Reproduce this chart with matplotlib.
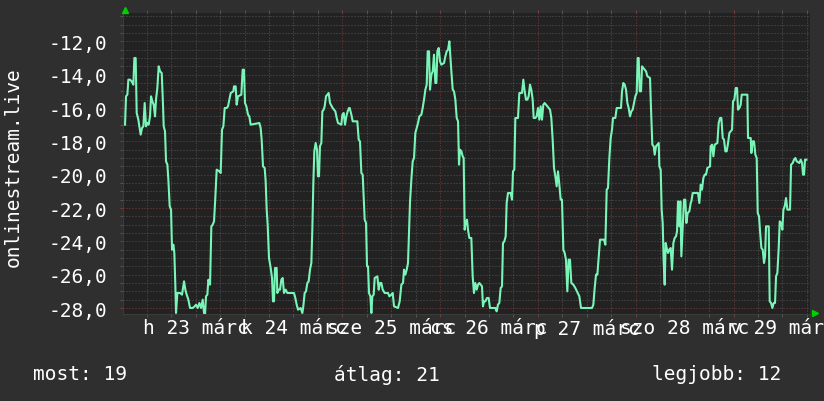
import matplotlib
matplotlib.use("Agg")
import matplotlib.pyplot as plt
import matplotlib.transforms as mtransforms
from matplotlib.ticker import MultipleLocator, FuncFormatter

# readings per day: (hour of day, value)
mar22 = [(18.68, -17.0), (18.92, -15.3), (19.25, -15.2), (19.50, -14.3), (19.90, -14.3), (20.31, -14.4),
         (20.72, -14.6), (20.97, -13.0), (21.29, -13.0), (21.54, -16.3), (21.95, -16.7), (22.19, -17.1),
         (22.52, -17.6), (22.85, -17.2), (23.18, -17.1), (23.50, -15.7), (23.83, -17.1)]
mar23 = [(0.16, -16.9), (0.48, -17.0), (0.81, -16.5), (1.06, -15.3), (1.38, -15.6), (1.71, -15.8), (2.04, -16.5),
         (2.28, -15.5), (2.61, -14.8), (2.94, -13.5), (3.27, -13.8), (3.68, -13.9), (3.92, -15.3), (4.17, -17.1),
         (4.49, -17.4), (4.74, -19.2), (5.07, -19.4), (5.31, -20.3), (5.64, -21.9), (5.97, -22.1), (6.21, -24.5),
         (6.54, -24.2), (6.78, -24.7), (7.03, -26.7), (7.19, -28.3), (7.52, -27.1), (8.17, -27.1), (8.66, -27.2),
         (9.16, -26.4), (9.48, -26.9), (9.81, -27.2), (10.22, -27.5), (10.63, -28.0), (11.28, -28.0),
         (11.77, -27.9), (12.10, -27.8), (12.51, -28.0), (12.92, -27.7), (13.33, -28.0), (13.74, -27.5),
         (14.06, -28.3), (14.31, -28.4), (14.55, -27.3), (14.88, -27.2), (15.13, -26.3), (15.54, -26.6),
         (15.86, -23.1), (16.19, -23.0), (16.52, -22.8), (16.85, -21.3), (17.17, -19.7), (17.83, -19.8),
         (18.15, -19.9), (18.48, -17.3), (18.81, -17.1), (19.14, -16.0), (19.63, -16.0), (19.95, -15.9),
         (20.28, -15.5), (20.61, -15.1), (21.26, -15.0), (21.42, -14.7), (21.83, -14.7), (22.07, -15.8),
         (22.40, -15.3), (23.22, -15.2), (23.55, -13.7), (23.87, -13.7)]
mar24 = [(0.12, -15.7), (0.45, -15.9), (0.86, -16.4), (1.18, -16.5), (1.51, -17.0), (3.64, -16.9), (3.96, -17.2),
         (4.21, -17.9), (4.54, -19.5), (4.95, -19.6), (5.19, -20.4), (5.44, -22.1), (5.68, -23.0), (6.01, -25.0),
         (6.42, -25.6), (6.75, -26.2), (6.99, -27.6), (7.24, -27.6), (7.48, -25.6), (7.89, -25.6), (8.05, -27.1),
         (8.38, -26.9), (8.71, -26.9), (9.04, -26.3), (9.36, -26.2), (9.69, -27.1), (10.10, -26.9),
         (10.51, -27.1), (12.14, -27.1), (12.47, -27.4), (12.80, -27.8), (13.13, -28.1), (13.78, -28.0),
         (14.19, -28.3), (14.43, -27.9), (14.76, -27.1), (15.09, -27.0), (15.42, -26.5), (15.74, -26.4),
         (16.07, -25.7), (16.40, -25.3), (16.64, -23.3), (16.89, -20.5), (17.13, -18.6), (17.46, -18.1),
         (17.79, -18.5), (18.03, -20.1), (18.28, -20.1), (18.52, -18.3), (18.85, -18.1), (19.10, -16.2),
         (19.42, -16.1), (19.67, -15.9), (20.00, -15.3), (20.65, -15.1), (20.98, -15.7), (21.63, -16.0),
         (22.29, -16.2), (22.62, -16.6), (22.94, -16.9), (23.76, -17.0)]
mar25 = [(0.01, -16.4), (0.33, -16.3), (0.66, -17.0), (0.99, -16.5), (1.31, -16.2), (1.64, -16.0), (1.81, -16.0),
         (2.22, -16.4), (2.55, -16.8), (3.69, -16.8), (4.02, -17.9), (4.34, -18.0), (4.67, -19.9), (5.00, -20.0),
         (5.24, -21.3), (5.49, -22.7), (5.82, -22.9), (6.06, -25.5), (6.31, -25.5), (6.55, -27.1), (6.88, -27.3),
         (7.13, -28.3), (7.37, -27.3), (7.70, -27.2), (7.94, -26.2), (8.60, -26.1), (8.93, -26.9), (9.25, -26.5),
         (9.58, -26.5), (9.91, -26.9), (10.40, -27.1), (11.22, -27.1), (11.54, -27.3), (12.03, -27.2),
         (12.36, -27.1), (12.69, -27.9), (13.67, -28.0), (14.08, -27.6), (14.49, -26.6), (14.90, -26.5),
         (15.14, -25.7), (15.47, -26.0), (15.80, -25.7), (16.12, -25.3), (16.37, -23.4), (16.62, -21.6),
         (16.94, -20.3), (17.27, -19.2), (17.60, -19.0), (17.92, -17.5), (18.25, -17.2), (18.58, -16.9),
         (18.91, -16.5), (19.40, -16.4), (19.72, -16.0), (20.05, -15.5), (20.38, -14.9), (20.71, -14.6),
         (20.95, -12.6), (21.28, -12.6), (21.52, -14.9), (21.85, -14.0), (22.18, -13.8), (22.50, -12.8),
         (22.83, -14.5), (23.08, -14.5), (23.32, -12.6), (23.65, -12.4), (23.98, -13.2)]
mar26 = [(0.30, -13.4), (0.96, -13.3), (1.29, -12.9), (1.61, -12.6), (1.94, -12.5), (2.27, -12.0), (2.51, -12.9),
         (2.76, -13.8), (3.09, -14.9), (3.41, -15.0), (3.74, -15.5), (4.07, -16.6), (4.40, -16.8), (4.64, -19.4),
         (4.88, -18.5), (5.21, -18.6), (5.54, -18.9), (5.78, -19.0), (6.02, -23.3), (6.27, -22.9), (6.60, -22.7),
         (6.84, -23.3), (7.17, -23.8), (7.66, -23.8), (7.99, -26.1), (8.31, -27.1), (8.64, -26.5), (8.97, -26.9),
         (9.30, -26.6), (9.62, -26.5), (10.28, -26.7), (10.52, -27.9), (10.77, -27.6), (11.10, -27.6),
         (11.50, -27.4), (11.91, -27.4), (12.24, -28.0), (13.55, -28.0), (13.88, -28.2), (14.20, -27.8),
         (14.53, -27.7), (14.86, -26.8), (15.19, -26.7), (15.43, -24.1), (15.76, -24.0), (16.09, -23.7),
         (16.33, -21.7), (16.66, -21.1), (17.31, -21.1), (17.64, -21.5), (17.89, -19.8), (18.21, -19.7),
         (18.46, -16.6), (19.11, -16.6), (19.44, -15.1), (20.09, -15.1), (20.42, -14.3), (20.75, -15.0),
         (21.08, -15.5), (21.40, -15.5), (21.73, -15.3), (22.06, -14.6), (22.38, -14.9), (22.71, -15.5),
         (22.96, -16.6), (23.37, -16.6), (23.69, -16.5)]
mar27 = [(0.02, -16.0), (0.35, -16.7), (0.68, -15.9), (1.00, -16.7), (1.33, -15.8), (1.66, -15.7), (2.31, -15.9),
         (2.97, -16.1), (3.29, -16.6), (3.62, -17.9), (3.95, -19.6), (4.28, -20.1), (4.60, -20.7), (4.93, -19.8),
         (5.26, -20.6), (5.58, -21.5), (5.91, -21.5), (6.24, -24.5), (6.57, -24.7), (6.89, -25.1), (7.22, -27.0),
         (7.55, -25.1), (7.87, -25.1), (8.20, -26.5), (8.69, -26.6), (9.18, -26.8), (9.76, -27.1), (10.17, -27.3),
         (10.58, -28.0), (13.28, -28.0), (13.60, -27.8), (13.93, -26.8), (14.26, -26.0), (14.59, -26.0),
         (14.91, -25.0), (15.24, -23.9), (16.22, -23.9), (16.55, -24.2), (16.88, -20.9), (17.20, -20.8),
         (17.53, -19.0), (17.86, -17.8), (18.18, -17.3), (18.43, -16.6), (19.00, -16.6), (19.33, -16.0),
         (20.39, -16.0), (20.64, -15.0), (20.97, -14.5), (21.29, -14.6), (21.62, -14.9), (21.95, -15.7),
         (22.27, -16.0), (22.60, -16.5), (22.93, -16.2), (23.26, -16.1), (23.58, -15.7), (23.91, -15.3)]
mar28 = [(0.24, -15.1), (0.48, -13.0), (0.73, -13.0), (0.97, -15.0), (1.30, -15.0), (1.55, -13.5), (1.87, -13.6),
         (2.20, -13.7), (2.53, -13.8), (2.86, -14.1), (3.51, -14.2), (3.76, -16.1), (4.08, -18.2), (4.41, -18.3),
         (4.66, -18.8), (4.98, -18.3), (5.64, -18.1), (5.80, -19.5), (6.13, -19.7), (6.37, -22.1), (6.62, -22.9),
         (6.86, -25.2), (7.11, -26.6), (7.35, -24.1), (7.60, -24.4), (7.93, -24.7), (8.25, -24.5), (8.58, -24.4),
         (8.91, -25.7), (9.24, -24.1), (9.56, -23.8), (9.89, -23.7), (10.14, -23.4), (10.38, -21.6),
         (10.71, -23.1), (10.95, -21.6), (11.20, -24.9), (11.53, -23.1), (11.85, -21.5), (12.18, -21.5),
         (12.43, -22.9), (12.75, -22.3), (13.16, -22.2), (13.49, -21.7), (13.66, -21.6), (13.98, -21.1),
         (15.29, -21.1), (15.62, -21.7), (15.95, -20.6), (16.27, -20.9), (16.60, -20.2), (16.93, -20.0),
         (17.26, -20.0), (17.58, -19.6), (18.24, -19.5), (18.40, -18.3), (18.73, -18.2), (19.06, -18.9),
         (19.38, -18.2), (20.04, -18.1), (20.36, -16.9), (20.69, -16.6), (21.02, -16.6), (21.35, -17.8),
         (21.67, -17.9), (22.00, -18.6), (22.33, -18.6), (22.66, -18.1), (22.98, -17.5), (23.64, -17.3),
         (23.88, -15.6)]
mar29 = [(0.21, -15.5), (0.54, -14.8), (0.86, -14.8), (1.11, -16.1), (1.44, -16.0), (1.76, -15.8), (2.01, -15.2),
         (3.40, -15.2), (3.56, -17.8), (4.22, -17.8), (4.38, -18.7), (4.71, -18.0), (5.04, -18.0), (5.36, -18.8),
         (5.69, -19.0), (5.94, -22.3), (6.26, -22.5), (6.51, -23.4), (6.84, -24.4), (7.16, -24.5), (7.49, -25.3),
         (7.74, -24.9), (7.98, -23.1), (8.64, -23.1), (8.88, -27.6), (9.21, -27.7), (9.54, -28.0), (9.86, -27.7),
         (10.19, -27.7), (10.44, -26.1), (10.76, -25.9), (11.09, -24.4), (11.34, -22.8), (11.66, -22.9),
         (11.99, -23.3), (12.24, -22.1), (12.56, -21.9), (12.89, -21.4), (13.22, -22.1), (13.87, -22.1),
         (14.12, -19.4), (14.53, -19.3), (14.85, -19.1), (15.18, -19.0), (15.51, -19.2), (16.16, -19.3),
         (16.49, -19.1), (16.82, -19.3), (17.06, -20.0), (17.31, -20.0), (17.55, -19.1), (17.88, -19.1)]

days = [22, 23, 24, 25, 26, 27, 28, 29]
day_readings = [mar22, mar23, mar24, mar25, mar26, mar27, mar28, mar29]
label_days = [23, 24, 25, 26, 27, 28, 29]
day_names = ["h", "k", "sze", "cs", "p", "szo", "v"]
month_name = "márc"

legend_items = [("most", 19), ("átlag", 21), ("legjobb", 12)]
ylabel = "onlinestream.live"

# hours since 23 márc 00:00
hours = []
values = []
for day, readings in zip(days, day_readings):
    for h, v in readings:
        hours.append(24 * (day - 23) + h)
        values.append(v)

bg = "#2f2f2f"
canvas = "#222222"
minor_c = "#555555"
major_c = "#7a3a3a"
text_c = "#ffffff"
font = "DejaVu Sans Mono"
fs = 14

fig = plt.figure(figsize=(8.24, 4.02), dpi=100, facecolor=bg)
ax = fig.add_axes([123 / 824, 87 / 402, 687 / 824, 301 / 402])
ax.set_facecolor(canvas)

ax.plot(hours, values, color="#7af5b8", linewidth=1.5, zorder=3)

ax.set_xlim(-5.82, 162.77)
ax.set_ylim(-28.36, -10.30)

ax.xaxis.set_major_locator(MultipleLocator(24))
ax.xaxis.set_minor_locator(MultipleLocator(6))
ax.yaxis.set_major_locator(MultipleLocator(2))
ax.yaxis.set_minor_locator(MultipleLocator(0.5))
ax.yaxis.set_major_formatter(FuncFormatter(lambda v, p: f"{v:.1f}".replace(".", ",")))
ax.set_xticklabels([])

ax.set_axisbelow(True)
ax.grid(which="minor", color=minor_c, linestyle=(0, (1, 2)), linewidth=0.72)
ax.grid(which="major", color=major_c, linestyle=(0, (1, 2)), linewidth=0.72)

ax.tick_params(axis="x", which="both", direction="out", length=2, width=0.72,
               top=True, bottom=True, labelbottom=False)
ax.tick_params(axis="x", which="major", color=major_c)
ax.tick_params(axis="x", which="minor", color=minor_c)
ax.tick_params(axis="y", which="both", direction="out", length=2, width=0.72,
               left=True, labelsize=fs, labelcolor=text_c, pad=9.5)
ax.tick_params(axis="y", which="major", color=major_c)
ax.tick_params(axis="y", which="minor", color=minor_c)
for lbl in ax.get_yticklabels():
    lbl.set_fontfamily(font)

for s in ["top", "right"]:
    ax.spines[s].set_visible(False)
for s in ["left", "bottom"]:
    ax.spines[s].set_color("#3c3c3c")
    ax.spines[s].set_linewidth(0.72)

# day labels centred on noon
trans = mtransforms.blended_transform_factory(ax.transData, ax.transAxes)
for day, name in zip(label_days, day_names):
    ax.text(24 * (day - 23) + 12, -0.012, f"{name} {day} {month_name}", transform=trans,
            ha="center", va="top", color=text_c, fontsize=fs, fontfamily=font, clip_on=False)

# axis arrows
ax.plot([0.003], [1.010], marker="^", color="#00d000", markersize=5, transform=ax.transAxes,
        clip_on=False, zorder=5)
ax.plot([1.0066], [0.0017], marker=">", color="#00d000", markersize=5, transform=ax.transAxes,
        clip_on=False, zorder=5)

fig.text(13 / 824, 1 - 167 / 402, ylabel, rotation=90, ha="center", va="center",
         color=text_c, fontsize=fs, fontfamily=font)

legend_x = [33, 334, 652]
for (name, val), x in zip(legend_items, legend_x):
    fig.text(x / 824, 1 - 375 / 402, f"{name}: {val}", ha="left", va="center",
             color=text_c, fontsize=fs, fontfamily=font)

fig.savefig("out.png", dpi=100, facecolor=bg)
